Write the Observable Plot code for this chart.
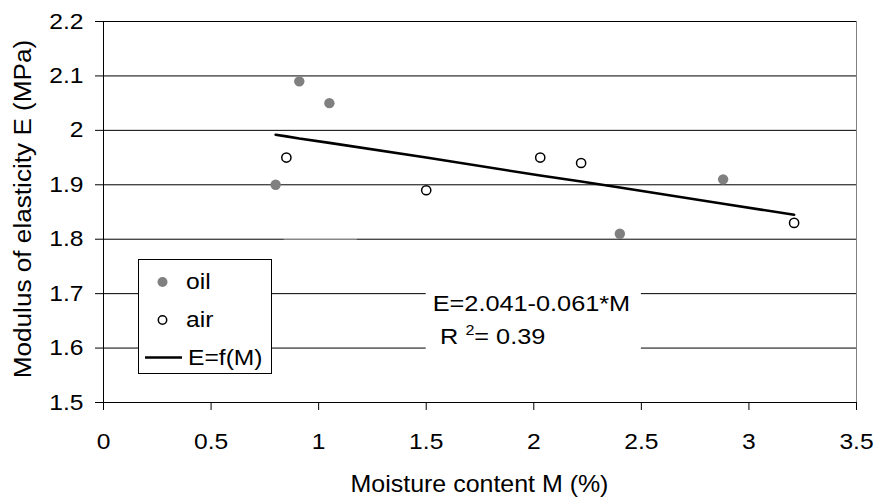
<!DOCTYPE html>
<html>
<head>
<meta charset="utf-8">
<script src="https://cdn.jsdelivr.net/npm/d3@7"></script>
<script src="https://cdn.jsdelivr.net/npm/@observablehq/plot@0.6"></script>
<style>
  html, body { margin: 0; padding: 0; background: #fff; }
  #chart { width: 875px; height: 502px; }
</style>
</head>
<body>
<div id="chart"></div>
<script>
// ---- Data ----
const oilM = [0.80, 0.91, 1.05, 2.40, 2.88];
const oilE = [1.90, 2.09, 2.05, 1.81, 1.91];
const airM = [0.85, 1.50, 2.03, 2.22, 3.21];
const airE = [1.95, 1.89, 1.95, 1.94, 1.83];
const trendM = [0.80, 0.85, 0.91, 1.05, 1.50, 2.03, 2.22, 2.40, 2.88, 3.21];
const trendE = [1.992, 1.989, 1.985, 1.977, 1.950, 1.917, 1.906, 1.895, 1.865, 1.845];

const xTicks = [0, 0.5, 1, 1.5, 2, 2.5, 3, 3.5];
const xTickLabels = ["0", "0.5", "1", "1.5", "2", "2.5", "3", "3.5"];
const yTicks = [1.5, 1.6, 1.7, 1.8, 1.9, 2.0, 2.1, 2.2];
const yTickLabels = ["1.5", "1.6", "1.7", "1.8", "1.9", "2", "2.1", "2.2"];

const xTitle = "Moisture content M (%)";
const yTitle = "Modulus of elasticity E (MPa)";
const legendLabels = ["oil", "air", "E=f(M)"];
const eqLine1 = "E=2.041-0.061*M";
const eqLine2 = ["R ", "2", "= 0.39"];

// ---- Tables built from the arrays ----
const oil = oilM.map((m, i) => ({M: m, E: oilE[i]}));
const air = airM.map((m, i) => ({M: m, E: airE[i]}));
const trend = trendM.map((m, i) => ({M: m, E: trendE[i]}));

const FONT = "'Liberation Sans', Arial, Helvetica, sans-serif";

const chart = Plot.plot({
  width: 875,
  height: 502,
  marginLeft: 103,
  marginRight: 19,
  marginTop: 21,
  marginBottom: 100,
  style: {fontFamily: FONT, fontSize: "22px", color: "#000", background: "#fff"},
  x: {domain: [0, 3.5]},
  y: {domain: [1.5, 2.2]},
  marks: [
    Plot.gridY(yTicks, {stroke: "#000", strokeOpacity: 1, strokeWidth: 1}),
    Plot.axisY(yTicks, {
      tickSize: 8, tickPadding: 12, fontSize: 22, stroke: "#000", fill: "#000",
      fontVariant: "normal",
      tickFormat: d => yTickLabels[yTicks.indexOf(d)], label: null
    }),
    Plot.axisX(xTicks, {
      tickSize: 8, tickPadding: 23, fontSize: 22, stroke: "#000", fill: "#000",
      fontVariant: "normal",
      tickFormat: d => xTickLabels[xTicks.indexOf(d)], label: null
    }),
    Plot.ruleX([0], {stroke: "#000", strokeWidth: 1}),
    Plot.ruleX([3.5], {stroke: "#808080", strokeWidth: 1}),
    Plot.ruleY([1.5], {stroke: "#000", strokeWidth: 1}),
    Plot.line(trend, {x: "M", y: "E", stroke: "#000", strokeWidth: 2.6}),
    Plot.dot(oil, {x: "M", y: "E", r: 5.2, fill: "#808080", stroke: "none"}),
    Plot.dot(air, {x: "M", y: "E", r: 4.6, fill: "#fff", stroke: "#000", strokeWidth: 1.5})
  ]
});

// Horizontally widen the axis texts (the reference font is a bit wider than Arial)
const TICK_SCALE = 1.12;
chart.querySelectorAll("text").forEach(t => {
  const tr = t.getAttribute("transform") || "";
  t.setAttribute("transform", `${tr} scale(${TICK_SCALE},1)`);
});

document.getElementById("chart").appendChild(chart);

// scales (pixel mapping) derived from the plot
const xs = chart.scale("x"), ys = chart.scale("y");
const sx = d3.scaleLinear(xs.domain, xs.range);
const sy = d3.scaleLinear(ys.domain, ys.range);

const svg = d3.select(chart);
const ov = svg.append("g").attr("font-family", FONT).attr("fill", "#000");

function addText(g, str, x, y, size, scale, anchor, rotate) {
  return g.append("text")
    .attr("transform", `translate(${x},${y})${rotate ? ` rotate(${rotate})` : ""} scale(${scale},1)`)
    .attr("font-size", size)
    .attr("text-anchor", anchor || "start")
    .text(str);
}

// light segment on the 1.8 gridline (artifact in the reference)
ov.append("line")
  .attr("x1", sx(0.84)).attr("x2", sx(1.18))
  .attr("y1", sy(1.8)).attr("y2", sy(1.8))
  .attr("stroke", "#c4c4c4").attr("stroke-width", 1.5);

// Axis titles
addText(ov, xTitle, (sx(0) + sx(3.5)) / 2, 492, 24, 1.04, "middle");
addText(ov, yTitle, 31, 209, 24, 1.09, "middle", -90);

// Equation box
const bx0 = sx(1.5), bx1 = sx(2.5);
ov.append("rect")
  .attr("x", bx0).attr("y", sy(1.74))
  .attr("width", bx1 - bx0).attr("height", sy(1.56) - sy(1.74))
  .attr("fill", "#fff");
addText(ov, eqLine1, bx0 + 7, sy(1.7) + 18, 22, 1.15, "start");
const t2 = ov.append("text")
  .attr("transform", `translate(${bx0 + 67},${sy(1.6) - 3.5}) scale(1.15,1)`)
  .attr("font-size", 22);
t2.append("tspan").text(eqLine2[0]);
t2.append("tspan").attr("font-size", 14).attr("dy", -9).text(eqLine2[1]);
t2.append("tspan").attr("font-size", 22).attr("dy", 9).text(eqLine2[2]);

// Legend
const lg = ov.append("g");
lg.append("rect")
  .attr("x", 138.5).attr("y", 259.5).attr("width", 133).attr("height", 114)
  .attr("fill", "#fff").attr("stroke", "#000").attr("stroke-width", 1);
lg.append("circle").attr("cx", 162.5).attr("cy", 282).attr("r", 5).attr("fill", "#808080");
lg.append("circle").attr("cx", 162.5).attr("cy", 320).attr("r", 4.2)
  .attr("fill", "#fff").attr("stroke", "#000").attr("stroke-width", 1.5);
lg.append("line").attr("x1", 145).attr("x2", 182).attr("y1", 357.5).attr("y2", 357.5)
  .attr("stroke", "#000").attr("stroke-width", 2.6);
addText(lg, legendLabels[0], 186, 289, 22, 1.12, "start");
addText(lg, legendLabels[1], 186, 327, 22, 1.12, "start");
addText(lg, legendLabels[2], 188, 365, 22, 1.12, "start");
</script>
</body>
</html>
